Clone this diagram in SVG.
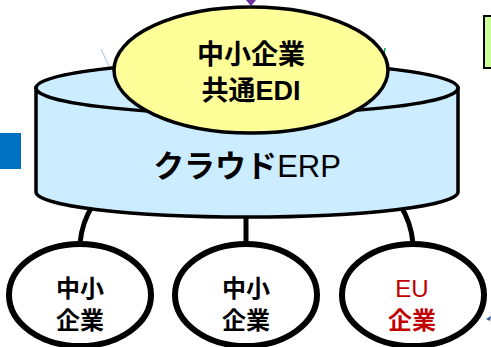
<svg xmlns="http://www.w3.org/2000/svg" width="491" height="347" viewBox="0 0 491 347">
<style>
.jp{font-family:"Liberation Sans","Noto Sans CJK JP",sans-serif;font-weight:bold;text-anchor:middle;fill:#000}
.conn{fill:none;stroke:#000;stroke-width:5}
.node{fill:#fff;stroke:#000;stroke-width:6}
</style>
<rect x="0" y="133" width="21" height="36" fill="#0070C0"/>
<rect x="484" y="16" width="12" height="52" fill="#CCFF99" stroke="#000" stroke-width="2"/>
<line x1="101" y1="49" x2="109" y2="66" stroke="#9DC3E6" stroke-width="1"/>
<line x1="385" y1="48" x2="384" y2="54" stroke="#00B050" stroke-width="1.5"/>
<path d="M486,319 L491,316 L490,321 Z" fill="#2F5597"/>
<g id="connectors">
<path class="conn" d="M93,205 Q82,222 80,243"/>
<path class="conn" d="M400,205 Q411,222 413,243"/>
<line class="conn" x1="246" y1="212" x2="246" y2="243"/>
</g>
<g id="erp">
<path d="M36,88 V192 A211,25 0 0 0 458,192 V88 Z" fill="#CCECFF" stroke="#000" stroke-width="3.5"/>
<ellipse cx="247" cy="88" rx="211" ry="26" fill="#CCECFF" stroke="#000" stroke-width="3.5"/>
<text x="247" y="177" font-size="31" font-family="Liberation Sans,Noto Sans CJK JP,sans-serif" text-anchor="middle"><tspan font-weight="bold">クラウド</tspan>ERP</text>
</g>
<g id="edi">
<ellipse cx="251" cy="70" rx="137" ry="63" fill="#FFFF99" stroke="#000" stroke-width="3.5"/>
<text class="jp" x="251" y="64" font-size="27">中小企業</text>
<text class="jp" x="251" y="100" font-size="27">共通EDI</text>
</g>
<path d="M246,0 L256,0 L251,6 Z" fill="#7030A0"/>
<g id="sme1">
<ellipse class="node" cx="80" cy="295" rx="71" ry="51"/>
<text class="jp" x="80" y="297" font-size="24">中小</text>
<text class="jp" x="80" y="329" font-size="24">企業</text>
</g>
<g id="sme2">
<ellipse class="node" cx="246" cy="295" rx="71" ry="51"/>
<text class="jp" x="246" y="297" font-size="24">中小</text>
<text class="jp" x="246" y="329" font-size="24">企業</text>
</g>
<g id="eu">
<ellipse class="node" cx="413" cy="295" rx="71" ry="51"/>
<text x="412" y="297" font-size="24" font-family="Liberation Sans,Noto Sans CJK JP,sans-serif" text-anchor="middle" fill="#C00000">EU</text>
<text class="jp" x="412" y="329" font-size="24" style="fill:#C00000">企業</text>
</g>
</svg>
